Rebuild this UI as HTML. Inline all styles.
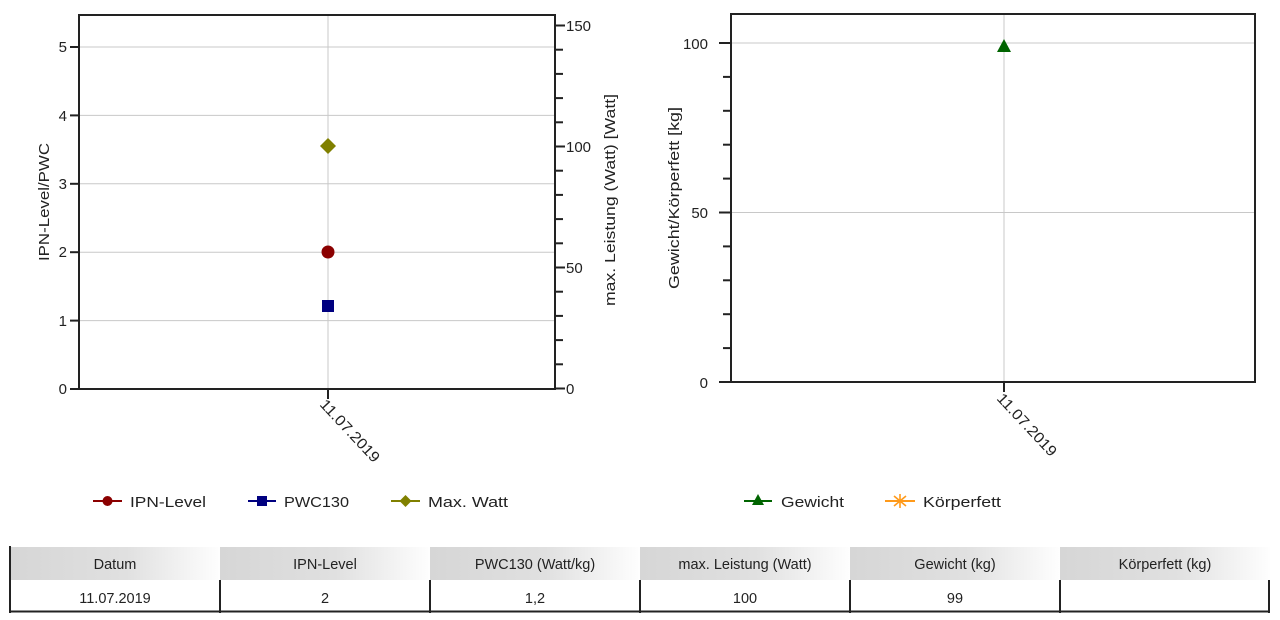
<!DOCTYPE html>
<html><head><meta charset="utf-8"><style>
html,body{margin:0;padding:0;background:#fff;}
svg{display:block;font-family:"Liberation Sans",sans-serif;}
</style></head><body>
<svg width="1280" height="620" viewBox="0 0 1280 620" xmlns="http://www.w3.org/2000/svg">
<defs>
<linearGradient id="hg" x1="0" y1="0" x2="1" y2="0">
<stop offset="0" stop-color="#d6d6d6"/><stop offset="0.55" stop-color="#e0e0e0"/><stop offset="1" stop-color="#fefefe"/>
</linearGradient>
</defs>
<rect width="1280" height="620" fill="#fff"/>

<!-- LEFT CHART -->
<g stroke="#c8c8c8" stroke-width="1">
<line x1="79" y1="320.6" x2="555" y2="320.6"/>
<line x1="79" y1="252.2" x2="555" y2="252.2"/>
<line x1="79" y1="183.8" x2="555" y2="183.8"/>
<line x1="79" y1="115.4" x2="555" y2="115.4"/>
<line x1="79" y1="47" x2="555" y2="47"/>
<line x1="328" y1="15" x2="328" y2="389"/>
</g>
<rect x="79" y="15" width="476" height="374" fill="none" stroke="#222" stroke-width="2"/>
<g stroke="#222" stroke-width="2">
<line x1="70" y1="389" x2="79" y2="389"/>
<line x1="70" y1="320.6" x2="79" y2="320.6"/>
<line x1="70" y1="252.2" x2="79" y2="252.2"/>
<line x1="70" y1="183.8" x2="79" y2="183.8"/>
<line x1="70" y1="115.4" x2="79" y2="115.4"/>
<line x1="70" y1="47" x2="79" y2="47"/>
<line x1="328" y1="389" x2="328" y2="399"/>
<!-- right axis ticks every 10 -->
<line x1="555" y1="388.5" x2="565" y2="388.5"/>
<line x1="555" y1="364.3" x2="563" y2="364.3"/>
<line x1="555" y1="340.1" x2="563" y2="340.1"/>
<line x1="555" y1="315.9" x2="563" y2="315.9"/>
<line x1="555" y1="291.7" x2="563" y2="291.7"/>
<line x1="555" y1="267.5" x2="565" y2="267.5"/>
<line x1="555" y1="243.3" x2="563" y2="243.3"/>
<line x1="555" y1="219.1" x2="563" y2="219.1"/>
<line x1="555" y1="194.9" x2="563" y2="194.9"/>
<line x1="555" y1="170.7" x2="563" y2="170.7"/>
<line x1="555" y1="146.5" x2="565" y2="146.5"/>
<line x1="555" y1="122.3" x2="563" y2="122.3"/>
<line x1="555" y1="98.1" x2="563" y2="98.1"/>
<line x1="555" y1="73.9" x2="563" y2="73.9"/>
<line x1="555" y1="49.7" x2="563" y2="49.7"/>
<line x1="555" y1="25.5" x2="565" y2="25.5"/>
</g>
<g font-size="15" fill="#222" text-anchor="end">
<text x="67" y="394">0</text>
<text x="67" y="326">1</text>
<text x="67" y="257">2</text>
<text x="67" y="189">3</text>
<text x="67" y="121">4</text>
<text x="67" y="52">5</text>
</g>
<g font-size="15" fill="#222" text-anchor="start">
<text x="566" y="394">0</text>
<text x="566" y="273">50</text>
<text x="566" y="152">100</text>
<text x="566" y="31">150</text>
</g>
<text transform="translate(49,202) rotate(-90)" font-size="15" fill="#222" text-anchor="middle" textLength="118" lengthAdjust="spacingAndGlyphs">IPN-Level/PWC</text>
<text transform="translate(615,200) rotate(-90)" font-size="15" fill="#222" text-anchor="middle" textLength="212" lengthAdjust="spacingAndGlyphs">max. Leistung (Watt) [Watt]</text>
<text transform="translate(319,405) rotate(47)" font-size="15" fill="#222" textLength="80" lengthAdjust="spacingAndGlyphs">11.07.2019</text>

<!-- markers left -->
<polygon points="328,138 336,146 328,154 320,146" fill="#808000"/>
<circle cx="328" cy="252" r="6.5" fill="#8b0000"/>
<rect x="322" y="300" width="12" height="12" fill="#000080"/>

<!-- RIGHT CHART -->
<g stroke="#c8c8c8" stroke-width="1">
<line x1="731" y1="43" x2="1255" y2="43"/>
<line x1="731" y1="212.5" x2="1255" y2="212.5"/>
<line x1="1004" y1="14" x2="1004" y2="382"/>
</g>
<rect x="731" y="14" width="524" height="368" fill="none" stroke="#222" stroke-width="2"/>
<g stroke="#222" stroke-width="2">
<line x1="719" y1="382" x2="731" y2="382"/>
<line x1="723" y1="348.1" x2="731" y2="348.1"/>
<line x1="723" y1="314.2" x2="731" y2="314.2"/>
<line x1="723" y1="280.3" x2="731" y2="280.3"/>
<line x1="723" y1="246.4" x2="731" y2="246.4"/>
<line x1="719" y1="212.5" x2="731" y2="212.5"/>
<line x1="723" y1="178.6" x2="731" y2="178.6"/>
<line x1="723" y1="144.7" x2="731" y2="144.7"/>
<line x1="723" y1="110.8" x2="731" y2="110.8"/>
<line x1="723" y1="76.9" x2="731" y2="76.9"/>
<line x1="719" y1="43" x2="731" y2="43"/>
<line x1="1004" y1="382" x2="1004" y2="392"/>
</g>
<g font-size="15" fill="#222" text-anchor="end">
<text x="708" y="388">0</text>
<text x="708" y="218">50</text>
<text x="708" y="49">100</text>
</g>
<text transform="translate(679,198) rotate(-90)" font-size="15" fill="#222" text-anchor="middle" textLength="182" lengthAdjust="spacingAndGlyphs">Gewicht/Körperfett [kg]</text>
<text transform="translate(996,399) rotate(47)" font-size="15" fill="#222" textLength="80" lengthAdjust="spacingAndGlyphs">11.07.2019</text>
<polygon points="1004,39 1011,52 997,52" fill="#006400"/>

<!-- LEGENDS -->
<g stroke-width="2">
<line x1="93" y1="501" x2="122" y2="501" stroke="#8b0000"/>
<line x1="248" y1="501" x2="276" y2="501" stroke="#000080"/>
<line x1="391" y1="501" x2="420" y2="501" stroke="#808000"/>
<line x1="744" y1="501" x2="772" y2="501" stroke="#006400"/>
<line x1="885" y1="501" x2="915" y2="501" stroke="#ff9a1a"/>
</g>
<circle cx="107.5" cy="501" r="5" fill="#8b0000"/>
<rect x="257" y="496" width="10" height="10" fill="#000080"/>
<polygon points="405.5,495 411.5,501 405.5,507 399.5,501" fill="#808000"/>
<polygon points="758,494 764,505 752,505" fill="#006400"/>
<g stroke="#ff9a1a" stroke-width="1.6">
<line x1="900" y1="494" x2="900" y2="508"/>
<line x1="894" y1="496" x2="906" y2="506"/>
<line x1="894" y1="506" x2="906" y2="496"/>
</g>
<g font-size="15" fill="#222">
<text x="130" y="507" textLength="76" lengthAdjust="spacingAndGlyphs">IPN-Level</text>
<text x="284" y="507" textLength="65" lengthAdjust="spacingAndGlyphs">PWC130</text>
<text x="428" y="507" textLength="80" lengthAdjust="spacingAndGlyphs">Max. Watt</text>
<text x="781" y="507" textLength="63" lengthAdjust="spacingAndGlyphs">Gewicht</text>
<text x="923" y="507" textLength="78" lengthAdjust="spacingAndGlyphs">Körperfett</text>
</g>

<!-- TABLE -->
<g>
<rect x="11" y="547" width="209" height="33" fill="url(#hg)"/>
<rect x="220" y="547" width="210" height="33" fill="url(#hg)"/>
<rect x="430" y="547" width="210" height="33" fill="url(#hg)"/>
<rect x="640" y="547" width="210" height="33" fill="url(#hg)"/>
<rect x="850" y="547" width="210" height="33" fill="url(#hg)"/>
<rect x="1060" y="547" width="210" height="33" fill="url(#hg)"/>
</g>
<g stroke="#222" stroke-width="2">
<line x1="10" y1="546" x2="10" y2="613"/>
<line x1="220" y1="580" x2="220" y2="613"/>
<line x1="430" y1="580" x2="430" y2="613"/>
<line x1="640" y1="580" x2="640" y2="613"/>
<line x1="850" y1="580" x2="850" y2="613"/>
<line x1="1060" y1="580" x2="1060" y2="613"/>
<line x1="1269" y1="580" x2="1269" y2="613"/>
<line x1="10" y1="611.5" x2="1270" y2="611.5"/>
</g>
<g font-size="14.5" fill="#222" text-anchor="middle">
<text x="115" y="569">Datum</text>
<text x="325" y="569">IPN-Level</text>
<text x="535" y="569">PWC130 (Watt/kg)</text>
<text x="745" y="569">max. Leistung (Watt)</text>
<text x="955" y="569">Gewicht (kg)</text>
<text x="1165" y="569">Körperfett (kg)</text>
<text x="115" y="603">11.07.2019</text>
<text x="325" y="603">2</text>
<text x="535" y="603">1,2</text>
<text x="745" y="603">100</text>
<text x="955" y="603">99</text>
</g>
</svg>
</body></html>
